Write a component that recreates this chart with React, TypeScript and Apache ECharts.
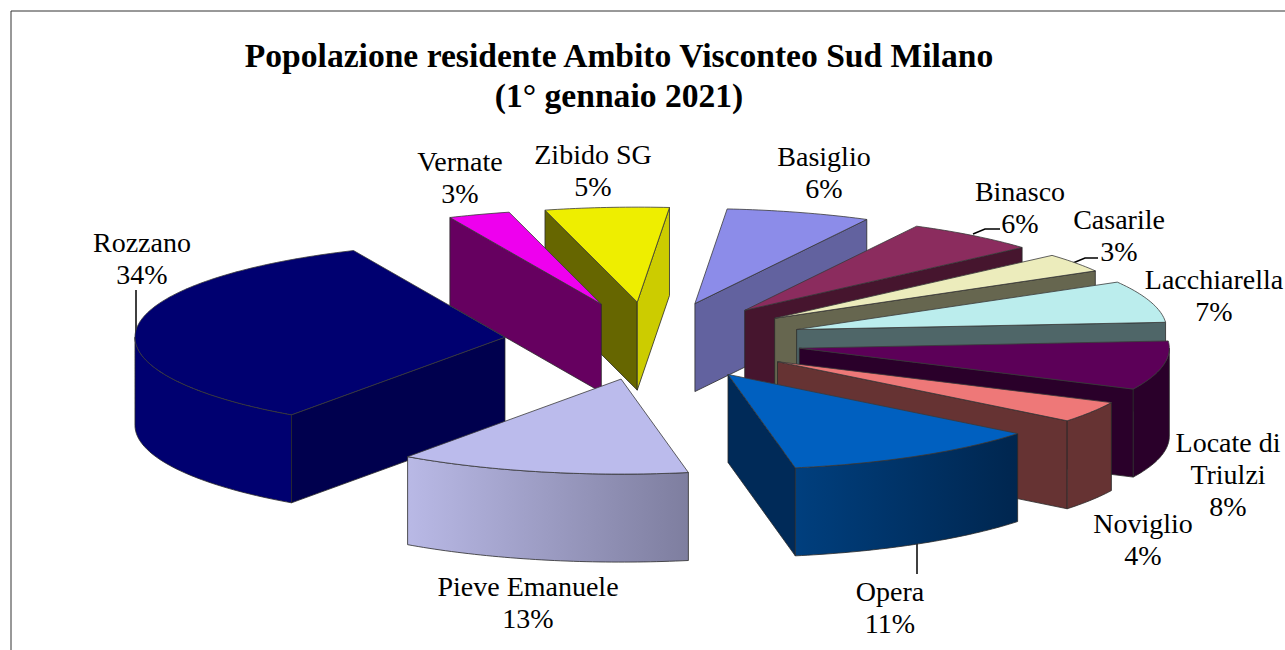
import React, { useEffect, useRef } from "react";
import * as echarts from "echarts";

const categories = ["Basiglio", "Binasco", "Casarile", "Lacchiarella", "Locate di\nTriulzi", "Noviglio", "Opera", "Pieve Emanuele", "Rozzano", "Vernate", "Zibido SG"];
const shares = [6.3, 5.8, 3.2, 7.1, 8.3, 3.6, 11.4, 12.7, 33.5, 2.7, 5.4];
const explodeX = [1.03, 0.99, 0.99, 0.99, 0.98, 0.97, 0.977, 0.87, 0.94, 0.95, 1.0];
const topColors = ["#8C8CE9", "#8B2C5E", "#ECECBC", "#BBEDED", "#5C0058", "#EE7878", "#0060C0", "#BBBBEC", "#000070", "#EE00EE", "#EEEE00"];
const wallColors = ["#62629F", "#46152E", "#66664F", "#4F6668", "#2A002A", "#663333", "#002A58", "#8F8FB0", "#00004E", "#660060", "#666600"];
const endWallColors = ["#62629F", "#46152E", "#66664F", "#4F6668", "#2A002A", "#663333", "#002A58", "#8F8FB0", "#00004E", "#660060", "#CCCC00"];
const arcFromColors = ["#62629F", "#46152E", "#66664F", "#4F6668", "#2A002A", "#663333", "#003F7E", "#B9B9E6", "#000070", "#660060", "#CCCC00"];
const arcToColors = ["#62629F", "#46152E", "#66664F", "#4F6668", "#2A002A", "#663333", "#00264F", "#7E7E9F", "#000070", "#660060", "#CCCC00"];
const labelAnchors = [[824, 172], [1020, 207], [1119, 235], [1214, 295], [1228, 474], [1143, 539], [890, 607], [528, 602], [142, 258], [460, 177], [593, 170]];
const leaderLines = [
  [[136, 335], [136, 290]],
  [[973, 234], [985, 229], [1000, 229]],
  [[1073, 263], [1085, 258], [1098, 258]],
  [[917, 540], [917, 574]],
];

const START = 5;
const CX = 650;
const CY = 341;
const RX = 370;
const RY = 95;
const EX = 155;
const EY = 39;
const DEPTH = 88;
const STROKE = "#2a2a2a";
const rad = (d: number) => (d * Math.PI) / 180;
const total = shares.reduce((a, b) => a + b, 0);

const slices = shares.map((value, i) => {
  const before = shares.slice(0, i).reduce((a, b) => a + b, 0);
  const a0 = START + (before / total) * 360;
  const a1 = a0 + (value / total) * 360;
  return { i, value, a0, a1, mid: (a0 + a1) / 2 };
});
const drawOrder = [...slices].sort((p, q) => Math.cos(rad(q.mid)) - Math.cos(rad(p.mid)));

function renderSlice(params: any) {
  const s = drawOrder[params.dataIndex];
  const tx = CX + EX * explodeX[s.i] * Math.sin(rad(s.mid));
  const ty = CY - EY * Math.cos(rad(s.mid));
  const rim = (a: number) => [tx + RX * Math.sin(rad(a)), ty - RY * Math.cos(rad(a))];
  const down = (p: number[]) => [p[0], p[1] + DEPTH];
  const steps = Math.max(6, Math.ceil(s.a1 - s.a0));
  const arcPts: number[][] = [];
  for (let k = 0; k <= steps; k++) arcPts.push(rim(s.a0 + ((s.a1 - s.a0) * k) / steps));
  const children: any[] = [];
  const lw = 0.8;
  const tip = [tx, ty];
  const wall = (p: number[], fill: string) => ({
    type: "polygon",
    shape: { points: [tip, p, down(p), down(tip)] },
    style: { fill, stroke: STROKE, lineWidth: lw },
  });
  if (Math.sin(rad(s.a0)) < 0) children.push(wall(rim(s.a0), wallColors[s.i]));
  if (Math.sin(rad(s.a1)) > 0) children.push(wall(rim(s.a1), endWallColors[s.i]));
  const lo = Math.max(s.a0, 90);
  const hi = Math.min(s.a1, 270);
  if (hi > lo) {
    const n = Math.ceil(hi - lo);
    const front: number[][] = [];
    for (let k = 0; k <= n; k++) front.push(rim(lo + ((hi - lo) * k) / n));
    children.push({
      type: "polygon",
      shape: { points: [...front, ...front.map(down).reverse()] },
      style: {
        fill: new echarts.graphic.LinearGradient(0, 0, 1, 0, [
          { offset: 0, color: arcFromColors[s.i] },
          { offset: 1, color: arcToColors[s.i] },
        ]),
        stroke: STROKE,
        lineWidth: lw,
      },
    });
  }
  children.push({
    type: "polygon",
    shape: { points: [tip, ...arcPts] },
    style: { fill: topColors[s.i], stroke: "#3a3a3a", lineWidth: lw },
  });
  return { type: "group", children };
}

const FONT = '"Liberation Serif", "Times New Roman", serif';

export default function App() {
  const ref = useRef<HTMLDivElement>(null);
  useEffect(() => {
    const chart = echarts.init(ref.current!, undefined, { renderer: "svg" });
    const labelEls = categories.map((name, i) => ({
      type: "text",
      x: labelAnchors[i][0],
      y: labelAnchors[i][1],
      silent: true,
      style: {
        text: `${name}\n${Math.round(shares[i])}%`,
        font: `28px ${FONT}`,
        fill: "#000",
        align: "center",
        verticalAlign: "middle",
        lineHeight: 32,
      },
    }));
    const leaderEls = leaderLines.map((pts) => ({
      type: "polyline",
      silent: true,
      shape: { points: pts },
      style: { stroke: "#000", lineWidth: 1.5, fill: "none" },
    }));
    chart.setOption({
      animation: false,
      backgroundColor: "#fff",
      title: {
        text: "Popolazione residente Ambito Visconteo Sud Milano\n(1° gennaio 2021)",
        left: 614,
        top: 30,
        textAlign: "center",
        textStyle: { fontFamily: FONT, fontWeight: "bold", fontSize: 33.6, lineHeight: 40, color: "#000" },
      },
      graphic: {
        elements: [
          {
            type: "polyline",
            silent: true,
            shape: { points: [[11, 650], [11, 11], [1285, 11]] },
            style: { stroke: "#333", lineWidth: 1, fill: "none" },
          },
          ...leaderEls,
          ...labelEls,
        ],
      },
      series: [
        {
          type: "custom",
          coordinateSystem: "none",
          renderItem: renderSlice,
          data: drawOrder.map((s) => s.value),
          silent: true,
        },
      ],
    });
    return () => chart.dispose();
  }, []);
  return <div ref={ref} style={{ position: "fixed", left: 0, top: 0, width: 1285, height: 650 }} />;
}
